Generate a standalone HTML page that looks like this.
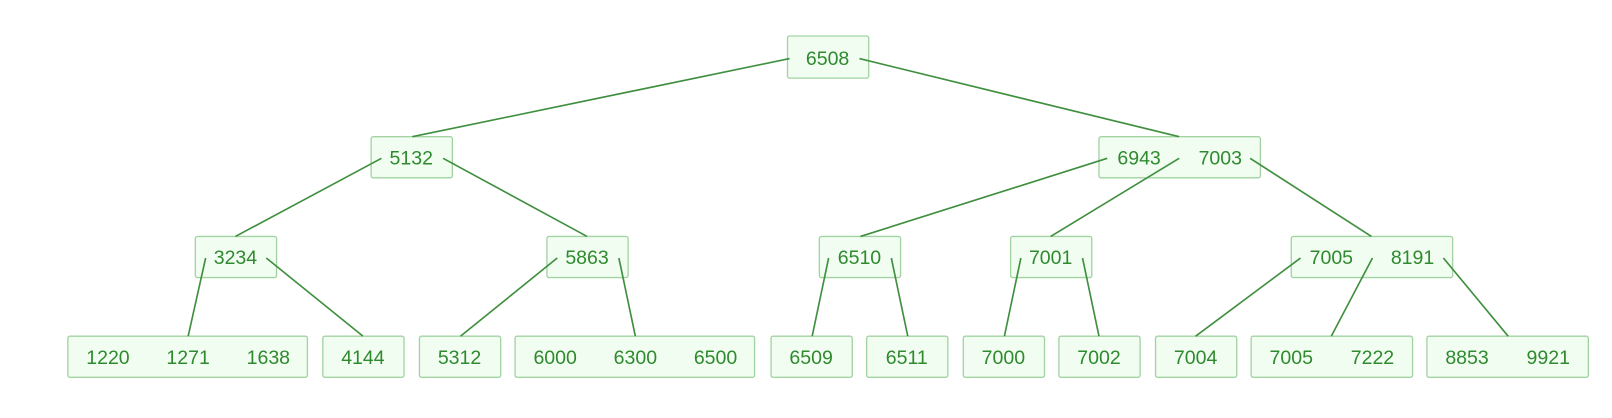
<!DOCTYPE html>
<html><head><meta charset="utf-8"><style>html,body{margin:0;padding:0;background:#fff;}svg{display:block}</style></head><body>
<svg width="1612" height="418" viewBox="0 0 1568 406.6" xmlns="http://www.w3.org/2000/svg">
<g fill="#f0fdf0" stroke="#a3d3a3" stroke-width="1.3">
<rect x="766" y="35" width="79" height="41" rx="2"/>
<rect x="361" y="133" width="79" height="40" rx="2"/>
<rect x="1069" y="133" width="157" height="40" rx="2"/>
<rect x="190" y="230" width="79" height="40" rx="2"/>
<rect x="532" y="230" width="79" height="40" rx="2"/>
<rect x="797" y="230" width="79" height="40" rx="2"/>
<rect x="983" y="230" width="79" height="40" rx="2"/>
<rect x="1256" y="230" width="157" height="40" rx="2"/>
<rect x="66" y="327" width="233" height="40" rx="2"/>
<rect x="314" y="327" width="79" height="40" rx="2"/>
<rect x="408" y="327" width="79" height="40" rx="2"/>
<rect x="501" y="327" width="233" height="40" rx="2"/>
<rect x="750" y="327" width="79" height="40" rx="2"/>
<rect x="843" y="327" width="79" height="40" rx="2"/>
<rect x="937" y="327" width="79" height="40" rx="2"/>
<rect x="1030" y="327" width="79" height="40" rx="2"/>
<rect x="1124" y="327" width="79" height="40" rx="2"/>
<rect x="1217" y="327" width="157" height="40" rx="2"/>
<rect x="1388" y="327" width="157" height="40" rx="2"/>
</g>
<g stroke="#3f8f3f" stroke-width="1.6" fill="none">
<line x1="768" y1="57" x2="401" y2="133"/><line x1="836" y1="57" x2="1147" y2="133"/>
<line x1="371" y1="154" x2="229" y2="230"/><line x1="431" y1="154" x2="571" y2="230"/>
<line x1="1077" y1="154" x2="837" y2="230"/><line x1="1147" y1="154" x2="1022" y2="230"/><line x1="1216" y1="154" x2="1334" y2="230"/>
<line x1="200" y1="251" x2="183" y2="327"/><line x1="259" y1="251" x2="353" y2="327"/>
<line x1="542" y1="251" x2="448" y2="327"/><line x1="602" y1="251" x2="618" y2="327"/>
<line x1="806" y1="251" x2="790" y2="327"/><line x1="867" y1="251" x2="883" y2="327"/>
<line x1="993" y1="251" x2="977" y2="327"/><line x1="1053" y1="251" x2="1069" y2="327"/>
<line x1="1265" y1="251" x2="1163" y2="327"/><line x1="1335" y1="251" x2="1295" y2="327"/><line x1="1404" y1="251" x2="1467" y2="327"/>
</g>
<g font-family="Liberation Sans, sans-serif" font-size="19" fill="#2f8a2f" text-anchor="middle">
<text x="805" y="63">6508</text>
<text x="400" y="160">5132</text>
<text x="1108" y="160">6943</text><text x="1187" y="160">7003</text>
<text x="229" y="257">3234</text>
<text x="571" y="257">5863</text>
<text x="836" y="257">6510</text>
<text x="1022" y="257">7001</text>
<text x="1295" y="257">7005</text><text x="1374" y="257">8191</text>
<text x="105" y="354">1220</text><text x="183" y="354">1271</text><text x="261" y="354">1638</text>
<text x="353" y="354">4144</text>
<text x="447" y="354">5312</text>
<text x="540" y="354">6000</text><text x="618" y="354">6300</text><text x="696" y="354">6500</text>
<text x="789" y="354">6509</text>
<text x="882" y="354">6511</text>
<text x="976" y="354">7000</text>
<text x="1069" y="354">7002</text>
<text x="1163" y="354">7004</text>
<text x="1256" y="354">7005</text><text x="1335" y="354">7222</text>
<text x="1427" y="354">8853</text><text x="1506" y="354">9921</text>
</g>
</svg>
</body></html>
